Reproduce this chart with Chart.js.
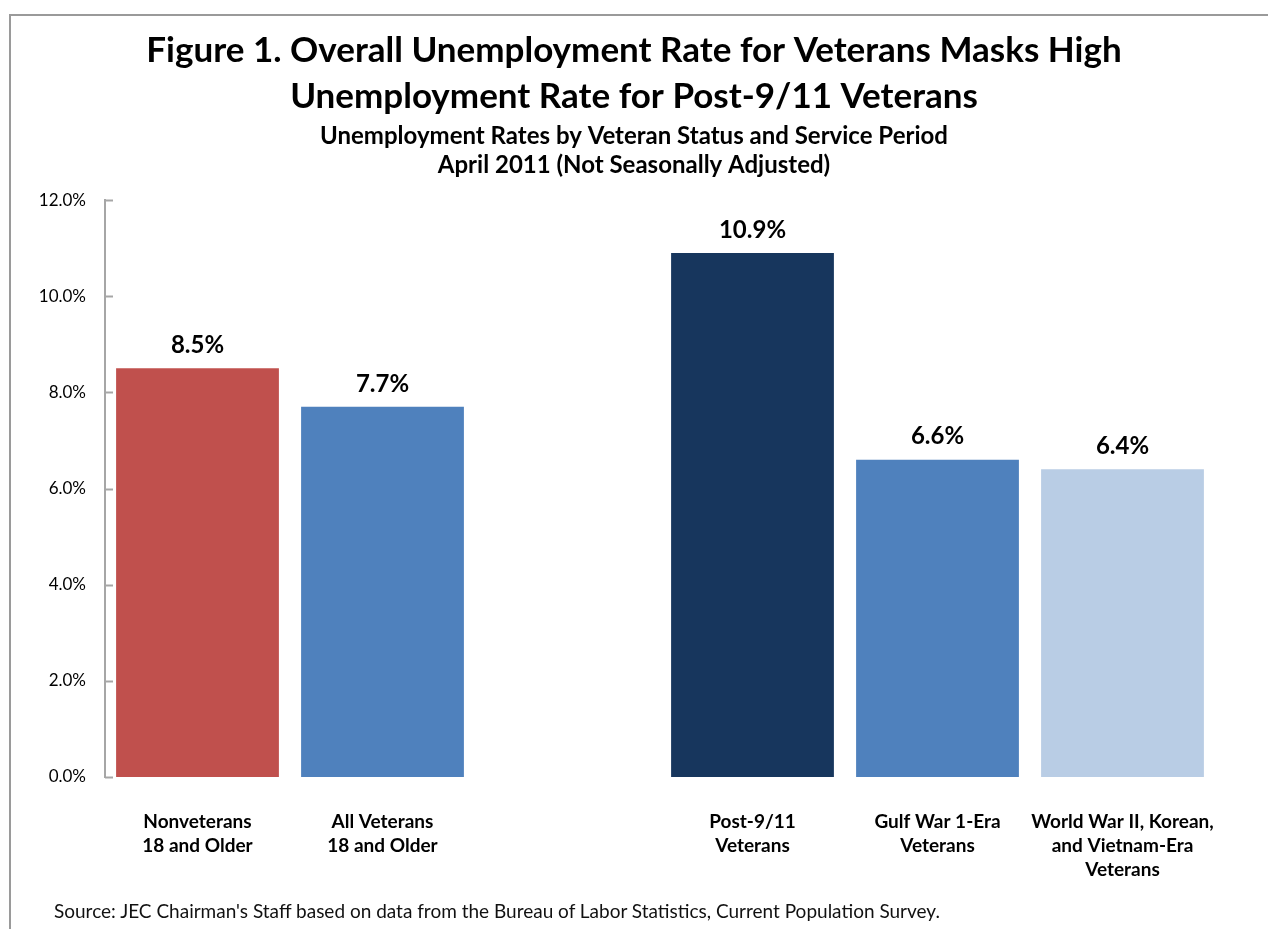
<!DOCTYPE html>
<html>
<head>
<meta charset="utf-8">
<script src="https://cdn.jsdelivr.net/npm/chart.js@4.4.1/dist/chart.umd.min.js"></script>
<style>
  body { margin: 0; background: #fff; }
  #wrap { position: relative; width: 1268px; height: 929px; overflow: hidden; }
  #frame { position: absolute; left: 9px; top: 14px; width: 1400px; height: 1000px;
           border-left: 2px solid #9a9a9a; border-top: 2px solid #9a9a9a; }
  #source { position: absolute; left: 54px; top: 899px; font: 19px Lato, sans-serif; color: #111; }
  canvas { position: absolute; left: 0; top: 0; }
</style>
</head>
<body>
<div id="wrap">
  <div id="frame"></div>
  <canvas id="chart1"></canvas>
  <div id="source">Source: JEC Chairman's Staff based on data from the Bureau of Labor Statistics, Current Population Survey.</div>
</div>
<script>
// categories (empty slot keeps the gap between the two groups)
var categories = [
  ["Nonveterans", "18 and Older"],
  ["All Veterans", "18 and Older"],
  "",
  ["Post-9/11", "Veterans"],
  ["Gulf War 1-Era", "Veterans"],
  ["World War II, Korean,", "and Vietnam-Era", "Veterans"]
];
var rates = [8.5, 7.7, null, 10.9, 6.6, 6.4];
var barColors = ["#c0504d", "#4f81bd", "#ffffff", "#17365d", "#4f81bd", "#b9cde5"];
var yTicks = [0, 2, 4, 6, 8, 10, 12];

var font = "Lato, 'Open Sans', sans-serif";

var valueLabels = {
  id: "valueLabels",
  afterDatasetsDraw: function(chart) {
    var ctx = chart.ctx;
    var meta = chart.getDatasetMeta(0);
    ctx.save();
    ctx.font = "bold 24px " + font;
    ctx.fillStyle = "#000";
    ctx.textAlign = "center";
    ctx.textBaseline = "middle";
    meta.data.forEach(function(bar, i) {
      if (rates[i] == null) return;
      ctx.fillText(rates[i].toFixed(1) + "%", bar.x, bar.y - 23);
    });
    ctx.restore();
  }
};

// small tick marks pointing into the plot, like the original
var innerTicks = {
  id: "innerTicks",
  afterDraw: function(chart) {
    var ctx = chart.ctx;
    var y = chart.scales.y;
    var left = chart.chartArea.left;
    ctx.save();
    ctx.strokeStyle = "#a6a6a6";
    ctx.lineWidth = 2;
    yTicks.forEach(function(v) {
      var py = Math.round(y.getPixelForValue(v)) + 0.5;
      ctx.beginPath();
      ctx.moveTo(left, py);
      ctx.lineTo(left + 8, py);
      ctx.stroke();
    });
    ctx.restore();
  }
};

var chart1 = new Chart(document.getElementById("chart1"), {
  type: "bar",
  data: {
    labels: categories,
    datasets: [{
      label: "Unemployment rate",
      data: rates,
      backgroundColor: barColors,
      barPercentage: 0.88,
      categoryPercentage: 1.0
    }]
  },
  options: {
    responsive: true,
    maintainAspectRatio: false,
    animation: false,
    layout: {
      padding: { left: 0, right: 0, top: 28, bottom: 42 }
    },
    plugins: {
      legend: { display: false },
      tooltip: { enabled: false },
      title: {
        display: true,
        text: ["Figure 1. Overall Unemployment Rate for Veterans Masks High", "Unemployment Rate for Post-9/11 Veterans"],
        color: "#000",
        font: { family: font, size: 35, weight: "bold", lineHeight: 1.314 },
        padding: { top: 0, bottom: 2 }
      },
      subtitle: {
        display: true,
        text: ["Unemployment Rates by Veteran Status and Service Period", "April 2011 (Not Seasonally Adjusted)"],
        color: "#000",
        font: { family: font, size: 24, weight: "bold", lineHeight: 1.21 },
        padding: { top: 0, bottom: 20 }
      }
    },
    scales: {
      x: {
        afterFit: function(scale) { scale.height = 110; },
        grid: { display: false, drawTicks: false },
        border: { display: false },
        ticks: {
          color: "#000",
          font: { family: font, size: 19, weight: "bold", lineHeight: 1.27 },
          padding: 33,
          maxRotation: 0,
          autoSkip: false
        }
      },
      y: {
        min: 0,
        max: 12,
        afterFit: function(scale) { scale.width = 105; },
        afterBuildTicks: function(scale) {
          scale.ticks = yTicks.map(function(v) { return { value: v }; });
        },
        grid: { display: false, drawTicks: false },
        border: { display: true, color: "#a6a6a6", width: 2 },
        ticks: {
          color: "#000",
          font: { family: font, size: 17 },
          padding: 19,
          callback: function(v) { return v.toFixed(1) + "%"; }
        }
      },
      // empty right-hand axis, only reserves the margin so the titles stay centred on the page
      yRight: {
        position: "right",
        min: 0,
        max: 12,
        afterFit: function(scale) { scale.width = 53; },
        grid: { display: false, drawTicks: false },
        border: { display: false },
        ticks: { display: false }
      }
    }
  },
  plugins: [valueLabels, innerTicks]
});
</script>
</body>
</html>
